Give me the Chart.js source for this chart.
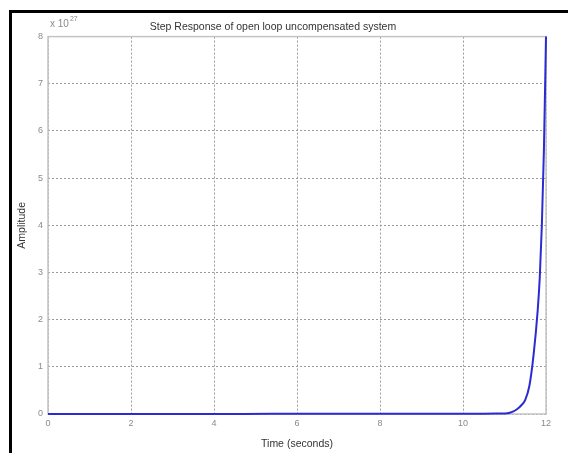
<!DOCTYPE html>
<html>
<head>
<meta charset="utf-8">
<script src="https://cdn.jsdelivr.net/npm/chart.js@4"></script>
<style>
  html, body { margin: 0; padding: 0; background: #fff; }
  #wrap { position: relative; width: 568px; height: 453px; overflow: hidden; }
  #chart { position: absolute; left: 0; top: 0; }
  #frame {
    position: absolute; left: 9px; top: 10px; right: -10px; bottom: -10px;
    border-left: 3px solid #000; border-top: 3px solid #000;
    pointer-events: none;
  }
</style>
</head>
<body>
<div id="wrap">
  <canvas id="chart" width="568" height="453"></canvas>
  <div id="frame"></div>
</div>
<script>
  /*
    ==================================================
    ===================== DATOS ======================
    ==================================================
  */

  // tiempo (s) y amplitud en unidades de 10^27
  const timeSeconds = [0, 2, 4, 5.4, 6, 8, 10, 10.5, 10.8, 11.0, 11.1, 11.2, 11.3, 11.4, 11.5, 11.6, 11.7, 11.8, 11.85, 11.9, 11.95, 12.0];
  const amplitudeE27 = [0, 0, 0, 0.003, 0.003, 0.003, 0.004, 0.005, 0.008, 0.012, 0.02, 0.05, 0.1, 0.18, 0.3, 0.6, 1.25, 2.2, 2.9, 4.0, 5.6, 8.0];

  const xTicks = [0, 2, 4, 6, 8, 10, 12];
  const yTicks = [0, 1, 2, 3, 4, 5, 6, 7, 8];

  const titleText = 'Step Response of open loop uncompensated system';
  const xLabel = 'Time (seconds)';
  const yLabel = 'Amplitude';
  const exponentBase = 'x 10';
  const exponentPow = '27';

  /*
    ==================================================
    ==================== GRAFICO =====================
    ==================================================
  */

  const tickColor = '#8a8a8a';
  const gridColor = '#9a9a9a';
  const boxColor = '#c4c4c4';
  const fontFam = '"Liberation Sans", Arial, sans-serif';

  // caja del eje (linea continua arriba / derecha) y exponente
  const axesBox = {
    id: 'axesBox',
    beforeDatasetsDraw(chart) {
      let { ctx, chartArea: a } = chart;
      ctx.save();
      ctx.strokeStyle = boxColor;
      ctx.lineWidth = 1.5;
      ctx.strokeRect(a.left, a.top, a.right - a.left, a.bottom - a.top);
      ctx.restore();
    },
    afterDraw(chart) {
      let { ctx, chartArea: a } = chart;
      ctx.save();
      ctx.fillStyle = tickColor;
      ctx.textBaseline = 'alphabetic';
      ctx.font = '10px ' + fontFam;
      ctx.fillText(exponentBase, a.left + 2, a.top - 10);
      let w = ctx.measureText(exponentBase).width;
      ctx.font = '7px ' + fontFam;
      ctx.fillText(exponentPow, a.left + 3 + w, a.top - 16);
      ctx.restore();
    }
  };

  let ctxStep = document.getElementById('chart').getContext('2d');

  let chartStep = new Chart(ctxStep, {
    type: 'line',
    data: {
      datasets: [{
        label: yLabel,
        data: timeSeconds.map((t, i) => ({ x: t, y: amplitudeE27[i] })),
        borderColor: '#2b2bd4',
        borderWidth: 2,
        pointRadius: 0,
        fill: false,
        cubicInterpolationMode: 'monotone',
        clip: false
      }]
    },
    options: {
      responsive: false,
      animation: false,
      devicePixelRatio: 1,
      layout: { padding: { left: 0, right: 22, top: 0, bottom: 0 } },
      plugins: {
        legend: { display: false },
        tooltip: { enabled: false },
        title: {
          display: true,
          text: titleText,
          color: '#333',
          font: { family: fontFam, size: 10.5, weight: 'normal' },
          padding: { top: 21, bottom: 3 }
        }
      },
      scales: {
        x: {
          type: 'linear',
          min: 0,
          max: 12,
          afterBuildTicks: s => { s.ticks = xTicks.map(v => ({ value: v })); },
          afterFit: s => { s.height = 39; },
          ticks: { color: tickColor, font: { family: fontFam, size: 9 }, padding: 4, maxRotation: 0 },
          grid: { color: gridColor, lineWidth: 1, drawTicks: false },
          border: { display: false, dash: [2, 2] },
          title: {
            display: true, text: xLabel, color: '#333',
            font: { family: fontFam, size: 10.5 }, padding: { top: 4, bottom: 3 }
          }
        },
        y: {
          min: 0,
          max: 8,
          afterBuildTicks: s => { s.ticks = yTicks.map(v => ({ value: v })); },
          afterFit: s => { s.width = 48; },
          ticks: { color: tickColor, font: { family: fontFam, size: 9 }, padding: 5 },
          grid: { color: gridColor, lineWidth: 1, drawTicks: false },
          border: { display: false, dash: [2, 2] },
          title: {
            display: true, text: yLabel, color: '#333',
            font: { family: fontFam, size: 10.5 }, padding: { top: 16, bottom: 6 }
          }
        }
      }
    },
    plugins: [axesBox]
  });
</script>
</body>
</html>
